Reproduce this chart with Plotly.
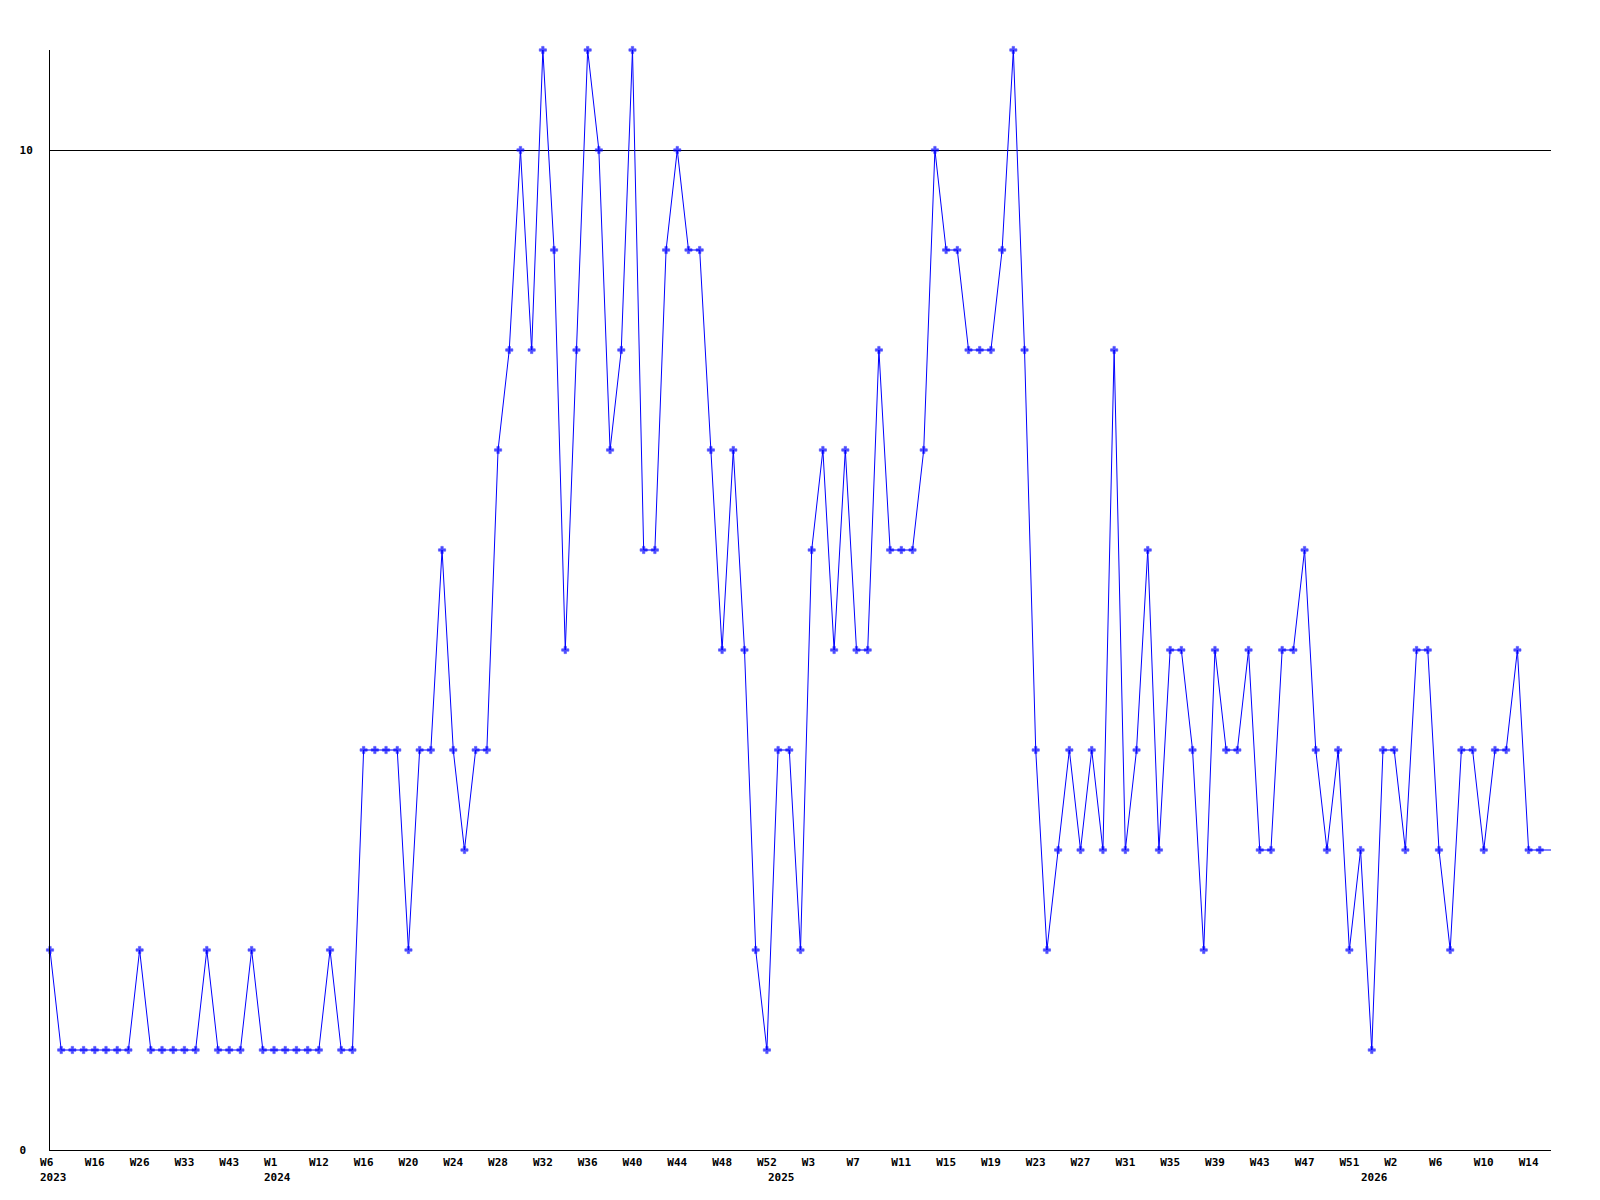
import plotly.graph_objects as go

# ---- data -------------------------------------------------------------
# weekly values, one per evenly spaced point (index 0 .. 134)
values = [
    2, 1, 1, 1, 1, 1, 1, 1, 2, 1, 1, 1, 1, 1, 2, 1, 1, 1, 2, 1, 1, 1, 1, 1, 1, 2, 1, 1,
    4, 4, 4, 4, 2, 4, 4, 6, 4, 3, 4, 4,
    7, 8, 10, 8, 11, 9, 5, 8, 11, 10, 7, 8, 11, 6, 6, 9, 10, 9, 9,
    7, 5, 7, 5, 2, 1, 4, 4, 2,
    6, 7, 5, 7, 5, 5, 8, 6, 6, 6, 7,
    10, 9, 9, 8, 8, 8, 9, 11, 8,
    4, 2, 3, 4, 3, 4, 3, 8, 3, 4, 6, 3, 5, 5, 4, 2, 5, 4, 4, 5, 3, 3, 5, 5, 6, 4, 3, 4,
    2, 3, 1, 4, 4, 3, 5, 5, 3, 2, 4, 4, 3, 4, 4, 5, 3, 3,
    3,
]

# week labels shown under every 4th point
week_labels = [
    "W6", "W16", "W26", "W33", "W43", "W1", "W12", "W16", "W20", "W24", "W28", "W32",
    "W36", "W40", "W44", "W48", "W52", "W3", "W7", "W11", "W15", "W19", "W23", "W27",
    "W31", "W35", "W39", "W43", "W47", "W51", "W2", "W6", "W10", "W14",
]
label_step = 4

# year labels and the point where each year starts
years = ["2023", "2024", "2025", "2026"]
year_start_index = [0, 20, 65, 118]

y_ticks = [0, 10]
y_tick_labels = ["0\u00a0", "10"]

# ---- figure -----------------------------------------------------------
n = len(values)
x = list(range(n))
tick_pos = [i * label_step for i in range(len(week_labels))]
tick_text = [w.ljust(3, "\u00a0") for w in week_labels]
marker_sizes = [6] * (n - 1) + [0]   # last (current) point drawn without marker

FONT = dict(family="DejaVu Sans Mono", size=11, color="black", weight="bold")
BLUE = "#0000ff"

fig = go.Figure()
fig.add_trace(go.Scatter(
    x=x, y=values, mode="lines+markers",
    line=dict(color=BLUE, width=1),
    marker=dict(symbol="cross", size=marker_sizes, color=BLUE,
                line=dict(width=0.6, color=BLUE)),
    cliponaxis=False,
    hoverinfo="x+y", showlegend=False,
))

for yr, idx in zip(years, year_start_index):
    fig.add_annotation(
        x=idx, xref="x", y=0, yref="paper",
        text=yr, showarrow=False, xanchor="left", yanchor="top",
        xshift=-12.5, yshift=-19, font=FONT,
    )

fig.update_layout(
    width=1584, height=1184,
    margin=dict(l=42, r=41, t=42, b=42, pad=0),
    paper_bgcolor="white", plot_bgcolor="white",
    font=FONT,
)
fig.update_xaxes(
    range=[0, n - 1], tickmode="array", tickvals=tick_pos, ticktext=tick_text,
    showgrid=False, zeroline=False, showline=True, linecolor="black", linewidth=1,
    ticks="", tickfont=FONT, ticklabelstandoff=2,
)
fig.update_yaxes(
    range=[0, 11], tickmode="array", tickvals=y_ticks, ticktext=y_tick_labels,
    showgrid=True, gridcolor="black", gridwidth=1, zeroline=False,
    showline=True, linecolor="black", linewidth=1, ticks="", tickfont=FONT,
    ticklabelstandoff=14,
)

fig.write_html("out.html")
